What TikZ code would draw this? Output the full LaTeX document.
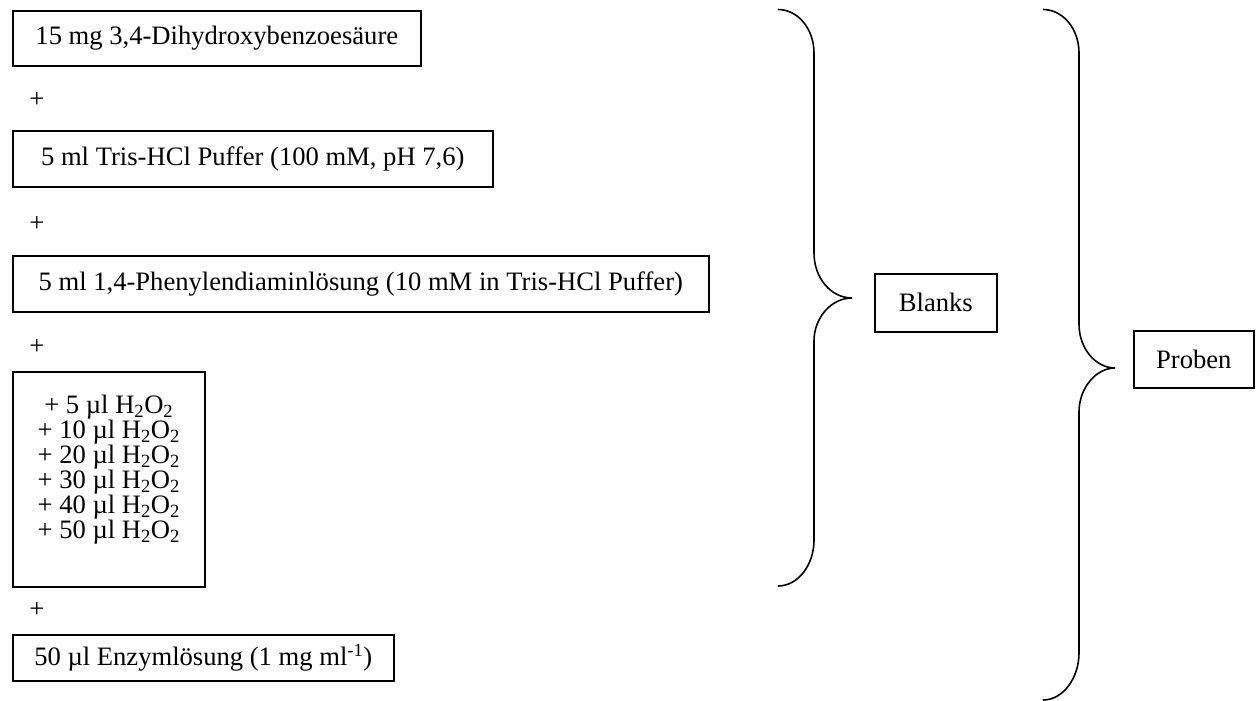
\documentclass[tikz,border=0pt]{standalone}
\usepackage{fontspec}
\setmainfont{Liberation Serif}
\newcommand{\hho}{H\textsubscript{2}O\textsubscript{2}}
\begin{document}
\begin{tikzpicture}[x=1pt,y=-1pt,
  txt/.style={font=\fontsize{26.6}{25}\selectfont},
  box/.style={txt, draw, line width=1.6pt, inner sep=0pt, anchor=north west, align=center},
  lbl/.style={txt, inner sep=0pt},
  brace/.style={draw, line width=1.6pt}]
\useasboundingbox (0,0) rectangle (1258,701);
\clip (0,0) rectangle (1258,701);
\node[box, minimum width=408pt, minimum height=55pt] (b1) at (12,10) {15 mg 3,4-Dihydroxybenzoesäure};
\node[lbl] (p1) at (37,100) {+};
\node[box, minimum width=480pt, minimum height=56pt] (b2) at (12,130) {5 ml Tris-HCl Puffer (100 mM, pH 7,6)};
\node[lbl] (p2) at (37,224) {+};
\node[box, minimum width=696pt, minimum height=56pt] (b3) at (12,255) {5 ml 1,4-Phenylendiaminlösung (10 mM in Tris-HCl Puffer)};
\node[lbl] (p3) at (37,347) {+};
\node[box, minimum width=192pt, minimum height=215pt] (b4) at (12,371) {+ 5 µl \hho\\ + 10 µl \hho\\ + 20 µl \hho\\ + 30 µl \hho\\ + 40 µl \hho\\ + 50 µl \hho\\ \mbox{}};
\node[lbl] (p4) at (37,610) {+};
\node[box, minimum width=381pt, minimum height=46pt] (b5) at (12,634) {50 µl Enzymlösung (1 mg ml\textsuperscript{-1})};
\node[box, minimum width=122pt, minimum height=58pt] (blanks) at (874,273) {Blanks};
\node[box, minimum width=120pt, minimum height=57pt] (proben) at (1133,330) {Proben};
\draw[brace] (778,9.5) .. controls (798,9.5) and (814,29) .. (814,53) -- (814,253)
  .. controls (814,278) and (831,298) .. (852,298)
  .. controls (831,298) and (814,318) .. (814,341) -- (814,540)
  .. controls (814,565) and (798,586) .. (778,586);
\draw[brace] (1043,9.5) .. controls (1063,9.5) and (1079,29) .. (1079,53) -- (1079,324)
  .. controls (1079,349) and (1096,368) .. (1115,368)
  .. controls (1096,368) and (1079,388) .. (1079,412) -- (1079,653)
  .. controls (1079,678) and (1063,700) .. (1043,700);
\end{tikzpicture}
\end{document}
